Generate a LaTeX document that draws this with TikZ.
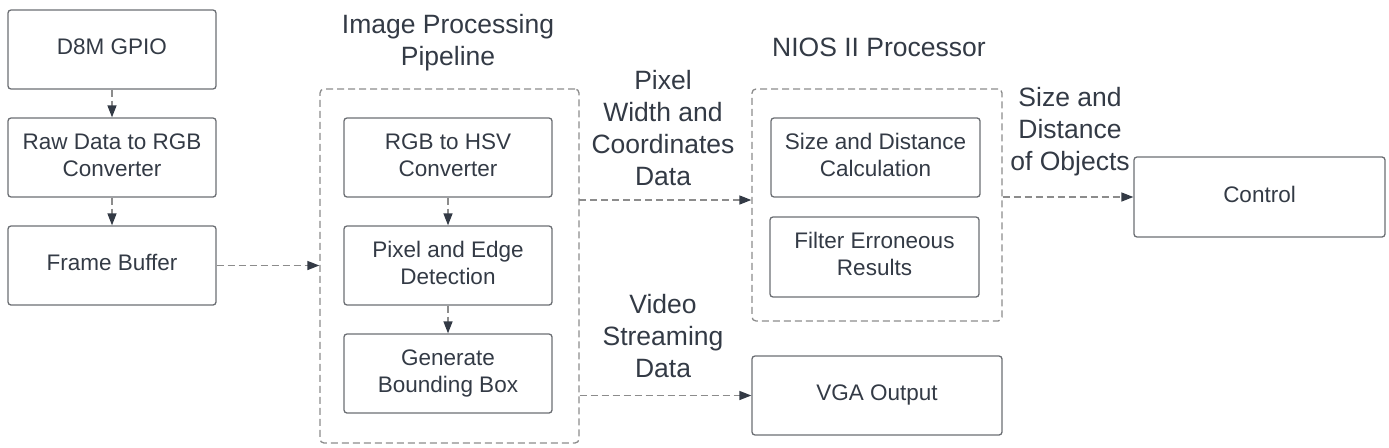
\documentclass[tikz,border=0pt]{standalone}
\usepackage{fontspec}
\setmainfont{Liberation Sans}
\usetikzlibrary{arrows.meta,calc}
\definecolor{txt}{HTML}{333A45}
\definecolor{brd}{HTML}{6B6E73}
\definecolor{dsh}{HTML}{8C8C8C}
\newcommand{\bxt}[1]{\raisebox{3pt}{\begin{tabular}{@{}c@{}}#1\end{tabular}}}
\begin{document}
\begin{tikzpicture}[x=1pt,y=-1pt,
 blk/.style={draw=brd,line width=1.3pt,rounded corners=3pt,text=txt,
   font=\fontsize{22.5}{27}\selectfont,inner sep=0pt},
 grp/.style={draw=dsh,line width=1.3pt,dash pattern=on 7pt off 4pt,rounded corners=4pt,inner sep=0pt},
 lbl/.style={text=txt,align=center,font=\fontsize{26.5}{32}\selectfont,inner sep=0pt},
 conn/.style={draw=dsh,line width=1.4pt,dash pattern=on 7pt off 4pt,
   -{Triangle[length=12pt,width=9pt,color=txt]}}]
\useasboundingbox (0,0) rectangle (1389,447);

% left column
\node[blk,minimum width=208pt,minimum height=79pt] (d8m) at (112,49.5) {\bxt{D8M GPIO}};
\node[blk,minimum width=208pt,minimum height=79pt] (raw) at (112,157.5) {\bxt{Raw Data to RGB\\Converter}};
\node[blk,minimum width=208pt,minimum height=79pt] (fb) at (112,265.5) {\bxt{Frame Buffer}};

% pipeline group
\node[grp,minimum width=259pt,minimum height=354pt] (pipe) at (449.5,266) {};
\node[lbl] (pipet) at (448,43) {Image Processing\\Pipeline};
\node[blk,minimum width=208pt,minimum height=79pt] (hsv) at (448,157.5) {\bxt{RGB to HSV\\Converter}};
\node[blk,minimum width=208pt,minimum height=79pt] (edge) at (448,265.5) {\bxt{Pixel and Edge\\Detection}};
\node[blk,minimum width=208pt,minimum height=79pt] (bbox) at (448,373.5) {\bxt{Generate\\Bounding Box}};

% NIOS group
\node[grp,minimum width=250pt,minimum height=232pt] (nios) at (877,205) {};
\node[lbl] (niost) at (879,47) {NIOS II Processor};
\node[blk,minimum width=209pt,minimum height=79pt] (calc) at (875.5,157.5) {\bxt{Size and Distance\\Calculation}};
\node[blk,minimum width=209pt,minimum height=80pt] (filt) at (874.5,257) {\bxt{Filter Erroneous\\Results}};

\node[blk,minimum width=250pt,minimum height=79pt] (vga) at (877,395.5) {\bxt{VGA Output}};
\node[blk,minimum width=251pt,minimum height=80pt] (ctrl) at (1259.5,197) {\bxt{Control}};

% labels
\node[lbl] (lpix) at (663,128.5) {Pixel\\Width and\\Coordinates\\Data};
\node[lbl] (lvid) at (663,336) {Video\\Streaming\\Data};
\node[lbl] (lsize) at (1070,132) {Size and\\Distance\\of Objects};

% connectors
\draw[conn] (d8m) -- (raw);
\draw[conn] (raw) -- (fb);
\draw[conn] (hsv) -- (edge);
\draw[conn] (edge) -- (bbox);
\draw[conn] (fb.east) -- (fb.east -| pipe.west);
\coordinate (pa) at (579,200);
\draw[conn] (pa) -- (pa -| nios.west);
\draw[conn] (vga.west -| pipe.east) -- (vga.west);
\draw[conn] (ctrl.west -| nios.east) -- (ctrl.west);
\end{tikzpicture}
\end{document}
